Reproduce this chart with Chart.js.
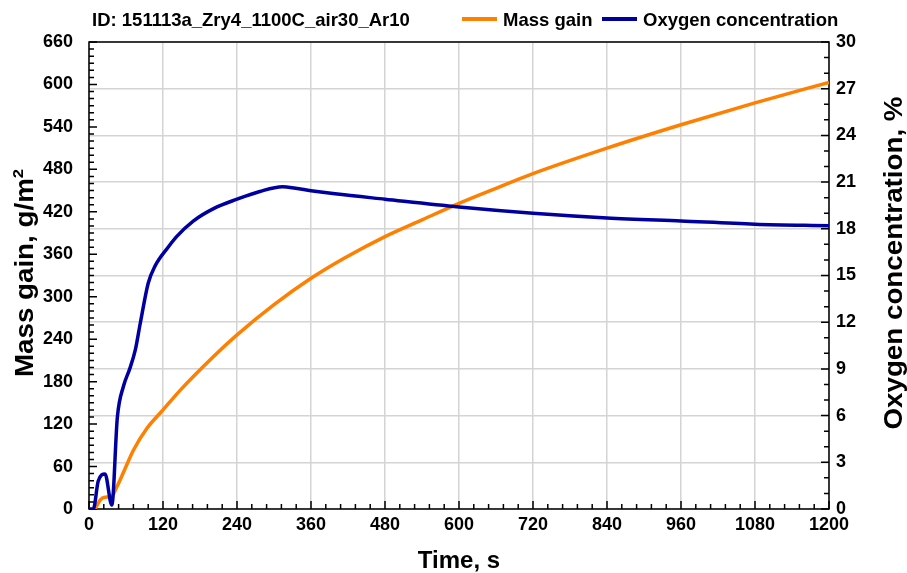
<!DOCTYPE html>
<html lang="en">
<head>
  <meta charset="UTF-8">
  <title>151113a_Zry4_1100C_air30_Ar10</title>
  <script src="https://cdn.jsdelivr.net/npm/chart.js"></script>
  <style>
    body {
      margin: 0;
      background: #fff;
      font-family: Arial, "Liberation Sans", sans-serif;
    }
    .wrap {
      position: relative;
      width: 907px;
      height: 573px;
    }
    .head {
      position: absolute;
      top: 9px;
      font-size: 18.5px;
      font-weight: bold;
      line-height: 22px;
      white-space: nowrap;
      color: #000;
    }
    .swatch {
      position: absolute;
      top: 17px;
      width: 35px;
      height: 4px;
    }
    /* y axis titles read bottom to top, slightly wide like the original */
    .ytitle {
      position: absolute;
      width: 400px;
      line-height: 28px;
      text-align: center;
      font-size: 25px;
      font-weight: bold;
      transform: rotate(-90deg) scaleX(1.11);
      white-space: nowrap;
    }
    .ytitle sup {
      font-size: 15px;
      line-height: 0;
      vertical-align: 10px;
    }
  </style>
</head>
<body>
  <div class="wrap">
    <canvas id="chart" width="907" height="573"></canvas>
    <div class="head" style="left:92px">ID: 151113a_Zry4_1100C_air30_Ar10</div>
    <div class="swatch" style="left:462px;background:#ff8000"></div>
    <div class="head" style="left:503px">Mass gain</div>
    <div class="swatch" style="left:602px;background:#0000a0"></div>
    <div class="head" style="left:643px">Oxygen concentration</div>
    <div class="ytitle" style="left:-176px;top:259px">Mass gain, g/m<sup>2</sup></div>
    <div class="ytitle" style="left:693px;top:249px">Oxygen concentration, %</div>
  </div>

  <script>
    // mass gain, g/m2 (left axis)
    const massTime = [10, 18, 26, 37, 45, 56, 72, 94, 120, 147, 202, 240, 299, 360, 413, 480, 541, 600, 662, 720, 840, 960, 1080, 1200];
    const massGain = [0, 12.7, 16.5, 18, 31, 52, 83, 114, 140, 167, 215.5, 246, 288, 326, 354, 385, 409, 432, 454, 474, 510, 543, 574, 603];

    // oxygen concentration, % (right axis)
    const o2Time = [0, 7, 15, 26, 37, 46, 56, 66, 75, 83, 96, 107, 128, 142, 169, 202, 240, 277, 314, 335, 360, 399, 480, 600, 720, 840, 960, 1080, 1200];
    const o2Conc = [0, 0, 1.8, 2.25, 0.25, 5.9, 7.9, 9.0, 10.2, 11.9, 14.5, 15.6, 16.8, 17.5, 18.5, 19.3, 19.9, 20.4, 20.7, 20.6, 20.45, 20.25, 19.9, 19.4, 19.0, 18.7, 18.5, 18.3, 18.2];

    // axis ranges
    const timeMax = 1200, timeStep = 120, timeMinor = 24;
    const massMax = 660, massStep = 60, massMinor = 10;
    const o2Max = 30, o2Step = 3, o2Minor = 1;

    Chart.defaults.font.family = 'Arial, "Liberation Sans", sans-serif';
    Chart.defaults.color = '#000';

    const tickFont = { size: 18, weight: 'bold' };
    const gridColor = '#d4d4d4';

    // box round the plot with inward tick marks
    const frameTicks = {
      id: 'frameTicks',
      beforeDatasetsDraw(chart) {
        const { ctx, chartArea: a } = chart;
        const x = chart.scales.x, yl = chart.scales.yMass, yr = chart.scales.yOxy;
        ctx.save();
        ctx.strokeStyle = '#000';
        ctx.lineWidth = 1.5;
        ctx.beginPath();
        for (let t = 0; t <= timeMax; t += timeMinor) {
          const px = x.getPixelForValue(t);
          const len = t % timeStep === 0 ? 8 : 5;
          ctx.moveTo(px, a.bottom);
          ctx.lineTo(px, a.bottom - len);
        }
        for (let v = 0; v <= massMax; v += massMinor) {
          const py = yl.getPixelForValue(v);
          const len = v % massStep === 0 ? 8 : 5;
          ctx.moveTo(a.left, py);
          ctx.lineTo(a.left + len, py);
        }
        for (let v = 0; v <= o2Max; v += o2Minor) {
          const py = yr.getPixelForValue(v);
          const len = v % o2Step === 0 ? 8 : 5;
          ctx.moveTo(a.right, py);
          ctx.lineTo(a.right - len, py);
        }
        ctx.stroke();
        ctx.strokeRect(a.left, a.top, a.right - a.left, a.bottom - a.top);
        ctx.restore();
      }
    };

    const ctx = document.getElementById('chart').getContext('2d');
    new Chart(ctx, {
      type: 'line',
      data: {
        datasets: [
          {
            label: 'Mass gain',
            data: massTime.map((t, i) => ({ x: t, y: massGain[i] })),
            yAxisID: 'yMass',
            borderColor: '#ff8000',
            borderWidth: 3.5,
            pointRadius: 0,
            cubicInterpolationMode: 'monotone',
            order: 2
          },
          {
            label: 'Oxygen concentration',
            data: o2Time.map((t, i) => ({ x: t, y: o2Conc[i] })),
            yAxisID: 'yOxy',
            borderColor: '#0000a0',
            borderWidth: 3.5,
            pointRadius: 0,
            cubicInterpolationMode: 'monotone',
            order: 1
          }
        ]
      },
      options: {
        responsive: false,
        animation: false,
        layout: { padding: { top: 42, left: 0, right: 0, bottom: 0 } },
        plugins: {
          legend: { display: false },
          tooltip: { enabled: false }
        },
        scales: {
          x: {
            type: 'linear',
            min: 0,
            max: timeMax,
            afterFit: s => { s.height = 64; },
            ticks: { stepSize: timeStep, font: tickFont, padding: 5, maxRotation: 0, callback: v => String(v) },
            grid: { color: gridColor, lineWidth: 1.5, drawTicks: false },
            border: { display: false },
            title: {
              display: true,
              text: 'Time, s',
              font: { size: 24, weight: 'bold', lineHeight: 1 },
              padding: 0
            }
          },
          yMass: {
            position: 'left',
            min: 0,
            max: massMax,
            afterFit: s => { s.width = 89; },
            ticks: { stepSize: massStep, font: tickFont, padding: 8, callback: v => String(v) },
            grid: { display: false },
            border: { display: false }
          },
          yOxy: {
            position: 'right',
            min: 0,
            max: o2Max,
            afterFit: s => { s.width = 78; },
            ticks: { stepSize: o2Step, font: tickFont, padding: 7, callback: v => String(v) },
            grid: { color: gridColor, lineWidth: 1.5, drawTicks: false },
            border: { display: false }
          }
        }
      },
      plugins: [frameTicks]
    });
  </script>
</body>
</html>
